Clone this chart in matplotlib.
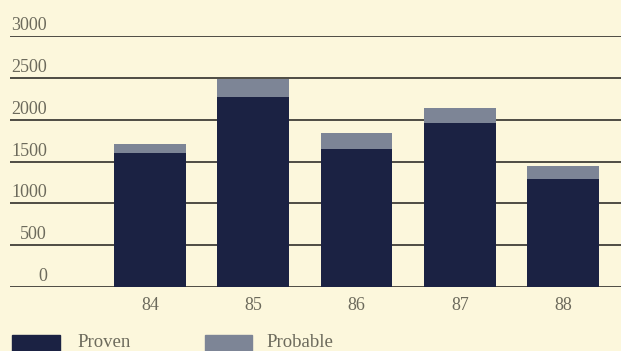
import matplotlib
matplotlib.use("Agg")
import matplotlib.pyplot as plt
import matplotlib.transforms as mtransforms
import numpy as np

# Reserves by year (proven and probable, stacked)
years = ["84", "85", "86", "87", "88"]
proven = [1600, 2275, 1645, 1955, 1290]
probable = [110, 215, 200, 185, 155]
y_ticks = [0, 500, 1000, 1500, 2000, 2500, 3000]

W, H = 621, 351
paper = "#fcf7dc"
navy = "#1b2243"
slate = "#7d8596"
grid_c = "#403f38"
text_c = "#6c6a5c"

plt.rcParams["font.family"] = ["Liberation Serif", "DejaVu Serif"]

fig = plt.figure(figsize=(W / 100, H / 100), dpi=100, facecolor=paper)
ax = fig.add_axes([10 / W, 64 / H, 611 / W, 251 / H])
ax.set_facecolor("none")

x = np.arange(len(years))
ax.set_xlim(-140 / 103.25, (611 - 140) / 103.25)
ax.set_ylim(0, 3000)

for v in y_ticks:
    ax.axhline(v, color=grid_c, lw=1.3, zorder=1)

ax.bar(x, proven, width=0.697, color=navy, zorder=2)
ax.bar(x, probable, width=0.697, bottom=proven, color=slate, zorder=2)

for s in ax.spines.values():
    s.set_visible(False)
ax.set_xticks([])
ax.set_yticks([])

# y labels sit just above each rule, right-aligned
ylab_tr = ax.get_yaxis_transform() + mtransforms.ScaledTranslation(0, 6 / 100, fig.dpi_scale_trans)
for v in y_ticks:
    ax.text(37 / 611, v, str(v), transform=ylab_tr, ha="right", va="baseline",
            fontsize=13, color=text_c)

# year labels under the baseline
xlab_tr = ax.get_xaxis_transform() + mtransforms.ScaledTranslation(0, -23 / 100, fig.dpi_scale_trans)
for xi, yr in zip(x, years):
    ax.text(xi, 0, yr, transform=xlab_tr, ha="center", va="baseline",
            fontsize=13, color=text_c)

# legend
fig.patches.append(plt.Rectangle((12 / W, 0), 48 / W, 16 / H, transform=fig.transFigure,
                                 color=navy, figure=fig))
fig.patches.append(plt.Rectangle((205 / W, 0), 47 / W, 16 / H, transform=fig.transFigure,
                                 color=slate, figure=fig))
fig.text(77 / W, 4 / H, "Proven", ha="left", va="baseline", fontsize=13.5, color=text_c)
fig.text(266 / W, 4 / H, "Probable", ha="left", va="baseline", fontsize=13.5, color=text_c)

fig.savefig("out.png", dpi=100, facecolor=paper)
